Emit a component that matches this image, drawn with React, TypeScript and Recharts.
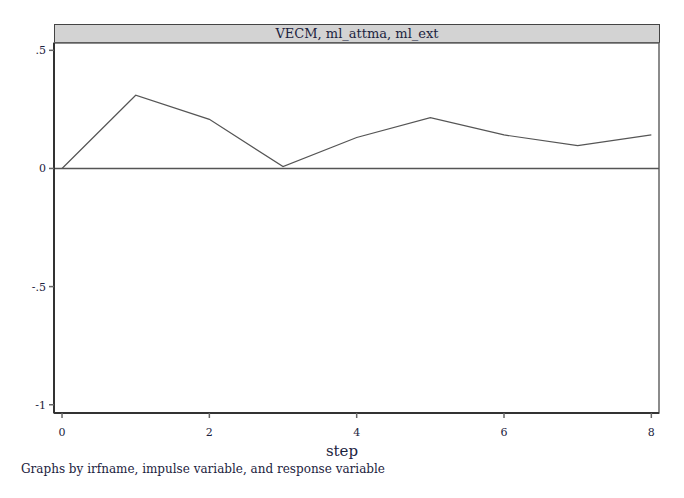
import React from 'react';
import { LineChart, Line, XAxis, YAxis, ReferenceLine, ReferenceArea } from 'recharts';

// Stata irf graph: VECM, ml_attma -> ml_ext
const STEPS = [0, 1, 2, 3, 4, 5, 6, 7, 8];
const IRF = [0, 0.31, 0.208, 0.008, 0.131, 0.215, 0.142, 0.097, 0.142];
const X_TICKS = [0, 2, 4, 6, 8];
const Y_TICKS = [-1, -0.5, 0, 0.5];
const PANEL_TITLE = 'VECM, ml_attma, ml_ext';
const X_TITLE = 'step';
const NOTE = 'Graphs by irfname, impulse variable, and response variable';

const FONT = 'DejaVu Serif';
const INK = '#1c2340';
const LINE = '#555555';

const data = STEPS.map((s, i) => ({ step: s, irf: IRF[i] }));

const fmtY = (v: number) => {
  if (v === 0) return '0';
  const s = String(v);
  return s.replace(/^(-?)0\./, '$1.');
};

export default function App() {
  return (
    <div style={{ position: 'absolute', left: 0, top: 0, width: 684, height: 498, background: '#fff', fontFamily: FONT }}>
      <div
        style={{
          position: 'absolute',
          left: 54,
          top: 24,
          width: 604,
          height: 17,
          background: '#d3d3d3',
          border: '1px solid #444',
          color: INK,
          fontSize: 13,
          lineHeight: '17px',
          textAlign: 'center',
        }}
      >
        {PANEL_TITLE}
      </div>
      <LineChart width={684} height={498} data={data} margin={{ top: 43, right: 25, left: 0, bottom: 0 }}>
        <ReferenceArea
          x1={-0.109}
          x2={8.104}
          y1={-1.035}
          y2={0.531}
          fill="none"
          stroke="#666"
          strokeWidth={1.5}
          ifOverflow="visible"
        />
        <XAxis
          dataKey="step"
          type="number"
          domain={[-0.109, 8.104]}
          allowDataOverflow
          ticks={X_TICKS}
          height={85}
          tickSize={5}
          tickMargin={10}
          stroke="#333"
          axisLine={{ stroke: '#333', strokeWidth: 2 }}
          tickLine={{ stroke: '#666', strokeWidth: 1.5 }}
          tick={{ fill: INK, fontSize: 11, fontFamily: FONT }}
        />
        <YAxis
          type="number"
          domain={[-1.035, 0.531]}
          allowDataOverflow
          ticks={Y_TICKS}
          width={54}
          tickSize={5}
          tickMargin={3}
          tickFormatter={fmtY}
          axisLine={{ stroke: '#333', strokeWidth: 2 }}
          tickLine={{ stroke: '#666', strokeWidth: 1.5 }}
          tick={{ fill: INK, fontSize: 11, fontFamily: FONT }}
        />
        <ReferenceLine y={0} stroke="#555" strokeWidth={1.5} />
        <Line type="linear" dataKey="irf" stroke={LINE} strokeWidth={1.2} dot={false} isAnimationActive={false} />
      </LineChart>
      <div style={{ position: 'absolute', left: 0, width: 684, top: 442, fontSize: 15, color: INK, textAlign: 'center' }}>{X_TITLE}</div>
      <div style={{ position: 'absolute', left: 21, top: 462, fontSize: 12, color: INK, whiteSpace: 'nowrap' }}>{NOTE}</div>
    </div>
  );
}
